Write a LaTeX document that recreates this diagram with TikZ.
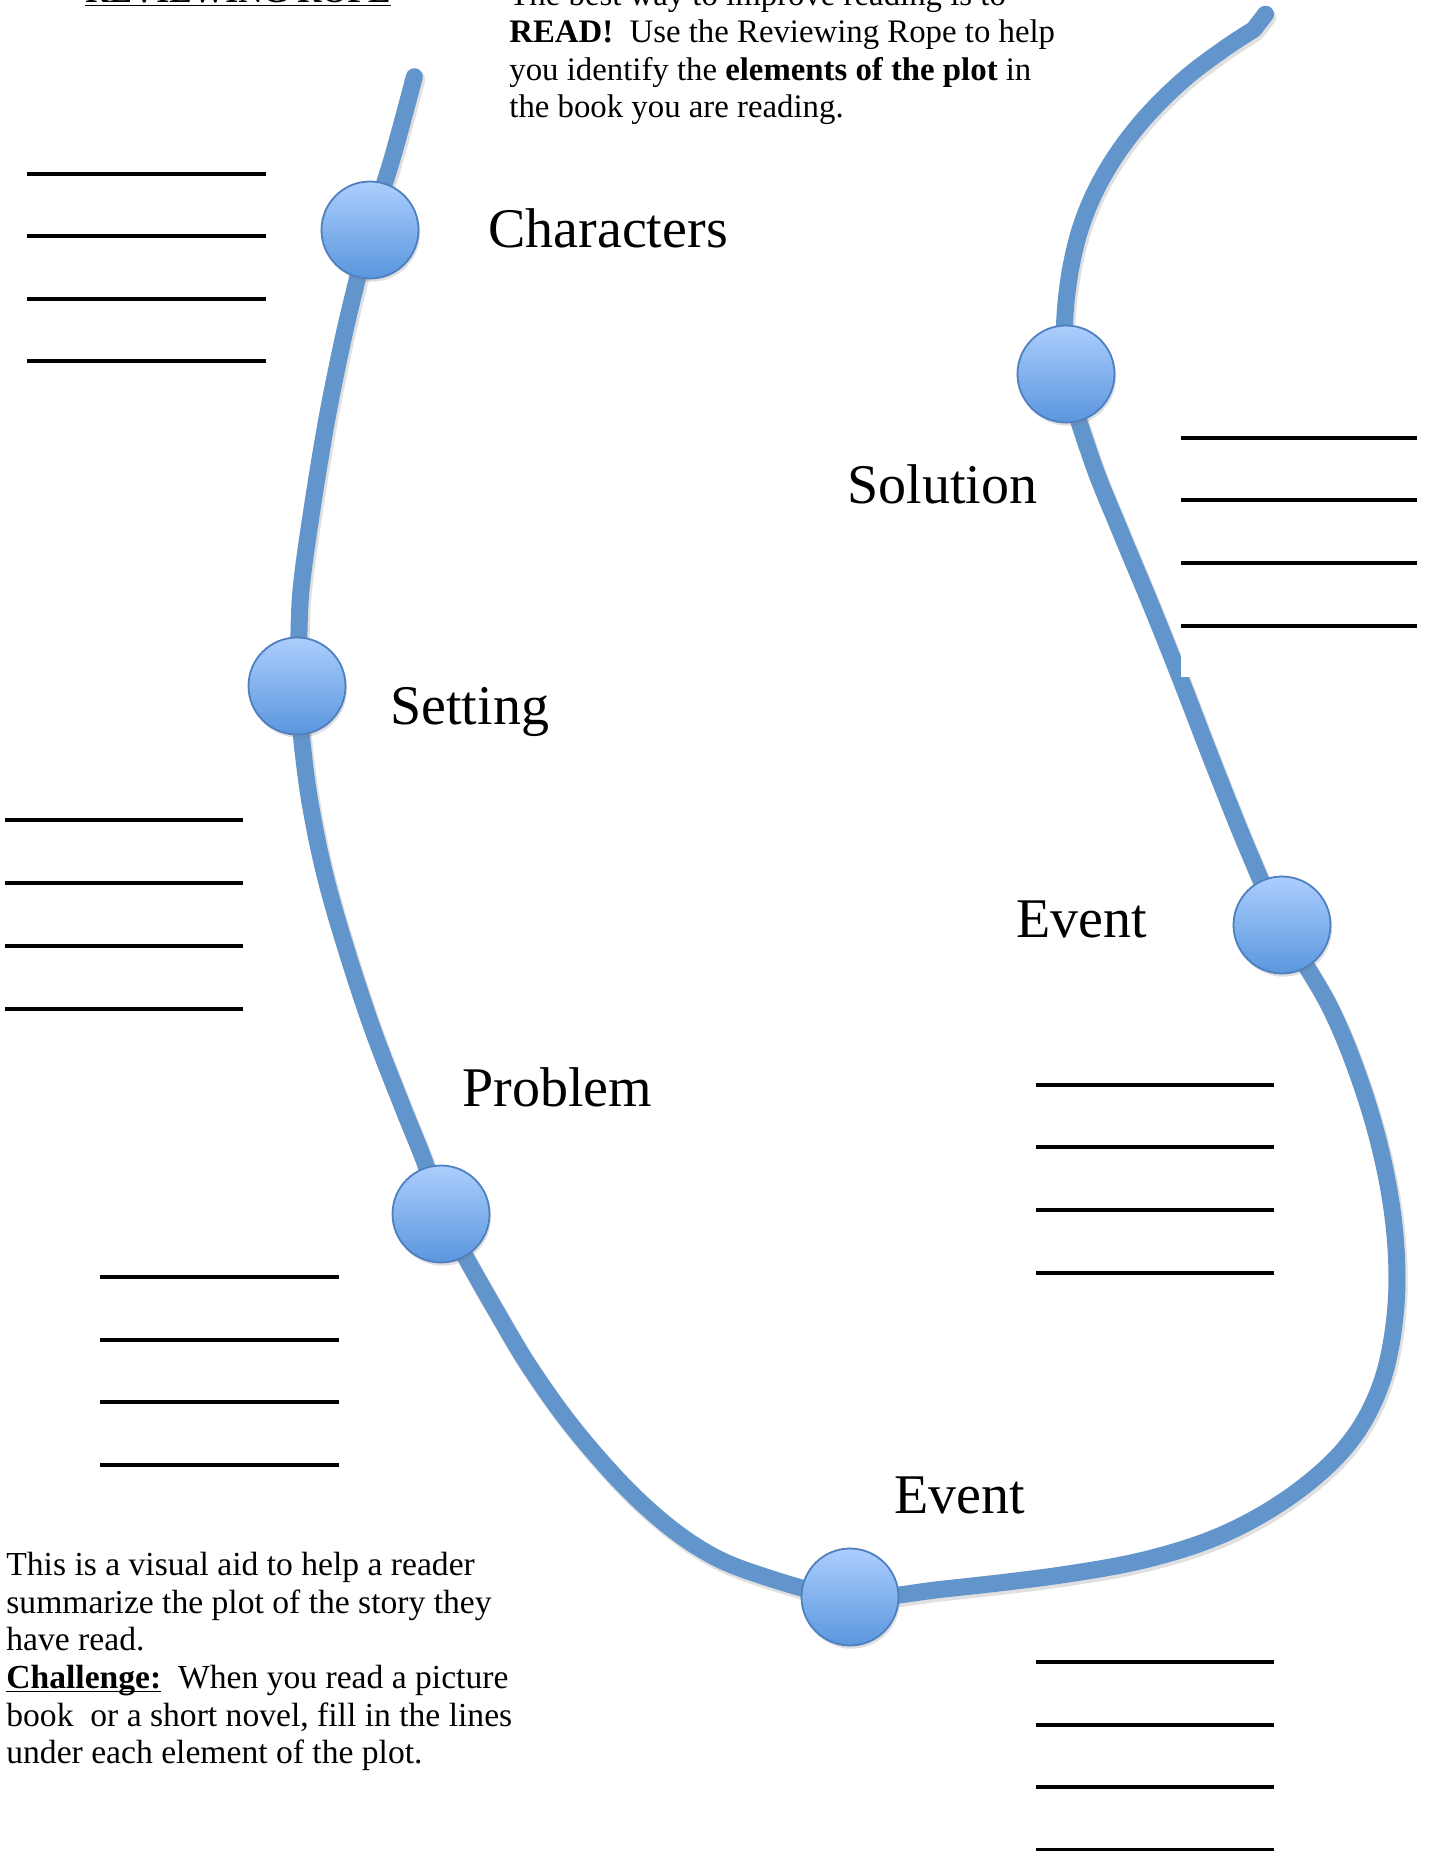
\documentclass[tikz,border=0pt]{standalone}
\usepackage{fontspec}
\setmainfont{Liberation Serif}
\usetikzlibrary{shadows}
\definecolor{ropec}{RGB}{97,149,203}
\definecolor{ctop}{RGB}{172,206,253}
\definecolor{cbot}{RGB}{90,150,222}
\definecolor{cedge}{RGB}{78,128,192}
\newcommand\myul[1]{\setbox0\hbox{#1}\rlap{\rule[-2.2bp]{\wd0}{0.9bp}}\box0}
\begin{document}
\begin{tikzpicture}[x=0.5bp,y=-0.5bp,
  rope/.style={draw=ropec, line width=8.5bp, line cap=round, line join=round},
  ropeshadow/.style={draw=black, opacity=0.12, line width=9bp, line cap=round, line join=round},
  dot/.style={circle, inner sep=0pt, minimum size=48.5bp, draw=cedge, line width=0.9bp,
    top color=ctop, bottom color=cbot,
    drop shadow={shadow xshift=0.8bp, shadow yshift=-1.6bp, opacity=0.25}},
  blank/.style={draw=black, line width=2bp},
  lbl/.style={anchor=base west, inner sep=0pt, font=\fontsize{28bp}{33bp}\selectfont},
  body/.style={anchor=base west, inner sep=0pt, font=\fontsize{16.8bp}{19bp}\selectfont},
  topbody/.style={anchor=base west, inner sep=0pt, font=\fontsize{16.4bp}{19bp}\selectfont}]
\useasboundingbox (0,0) rectangle (1432,1851);
\clip (0,0) rectangle (1432,1851);
\fill[white] (0,0) rectangle (1432,1851);

% rope (coordinates in units of the 1213-wide view, scaled up)
\def\ropepath{plot[smooth, tension=0.6] coordinates {
 (351,65) (332,135) (313,195) (303,235) (290,290) (276,360) (263,440) (255,500) (253,545) (252,581)
 (256,630) (263,682) (275,740) (292,800) (315,870) (340,935) (360,985) (374,1028)
 (395,1066) (420,1110) (450,1160) (490,1215) (540,1270) (590,1310) (640,1333) (720,1353)
 (800,1346) (900,1334) (975,1320) (1040,1298) (1098,1264) (1143,1222) (1170,1172)
 (1182,1112) (1182,1050) (1172,985) (1153,918) (1126,852) (1086,784)
 (1058,722) (1029,650) (1000,575) (974,510) (949,450) (925,390) (903,317)
 (902,270) (908,222) (920,180) (940,140) (968,102) (1002,68) (1036,42) (1062,25)} -- (1072,12)}
\begin{scope}[scale=1.1805]
\begin{scope}[shift={(1.5,2.5)}]
\draw[ropeshadow] \ropepath;
\end{scope}
\draw[rope] \ropepath;
\end{scope}

% white text box covering the rope
\fill[white] (1181,560) rectangle (1432,677);

% blank lines
\foreach \y in {174,236,299,361} \draw[blank] (27,\y) -- (266,\y);
\foreach \y in {438,500,563,626} \draw[blank] (1181,\y) -- (1417,\y);
\foreach \y in {820,883,946,1009} \draw[blank] (5,\y) -- (243,\y);
\foreach \y in {1085,1147,1210,1273} \draw[blank] (1036,\y) -- (1274,\y);
\foreach \y in {1277,1340,1402,1465} \draw[blank] (100,\y) -- (339,\y);
\foreach \y in {1662,1725,1787,1850} \draw[blank] (1036,\y) -- (1274,\y);

% circles
\node[dot] (characters) at (370,230) {};
\node[dot] (setting) at (297,686) {};
\node[dot] (problem) at (441,1214) {};
\node[dot] (event1) at (850,1597) {};
\node[dot] (event2) at (1282,925) {};
\node[dot] (solution) at (1066,374) {};

% labels
\node[lbl] (lchar) at (488,247) {Characters};
\node[lbl] (lsol) at (847,503) {Solution};
\node[lbl] (lset) at (390,724) {Setting};
\node[lbl] (lev2) at (1016,937) {Event};
\node[lbl] (lprob) at (462,1106) {Problem};
\node[lbl] (lev1) at (894,1513) {Event};

% title and top text
\node[body] (title) at (85,2) {\myul{\textbf{REVIEWING ROPE}}};
\node[topbody] (t1) at (509,5) {The best way to improve reading is to};
\node[topbody] (t2) at (509,42.5) {\textbf{READ!}\ \ Use the Reviewing Rope to help};
\node[topbody] (t3) at (509,80) {you identify the \textbf{elements of the plot} in};
\node[topbody] (t4) at (509,117.5) {the book you are reading.};

% bottom text
\node[body] (b1) at (6,1575) {This is a visual aid to help a reader};
\node[body] (b2) at (6,1613) {summarize the plot of the story they};
\node[body] (b3) at (6,1650) {have read.};
\node[body] (b4) at (6,1688) {\myul{\textbf{Challenge:}}\ \ When you read a picture};
\node[body] (b5) at (6,1726) {book\ \ or a short novel, fill in the lines};
\node[body] (b6) at (6,1763) {under each element of the plot.};
\end{tikzpicture}
\end{document}
